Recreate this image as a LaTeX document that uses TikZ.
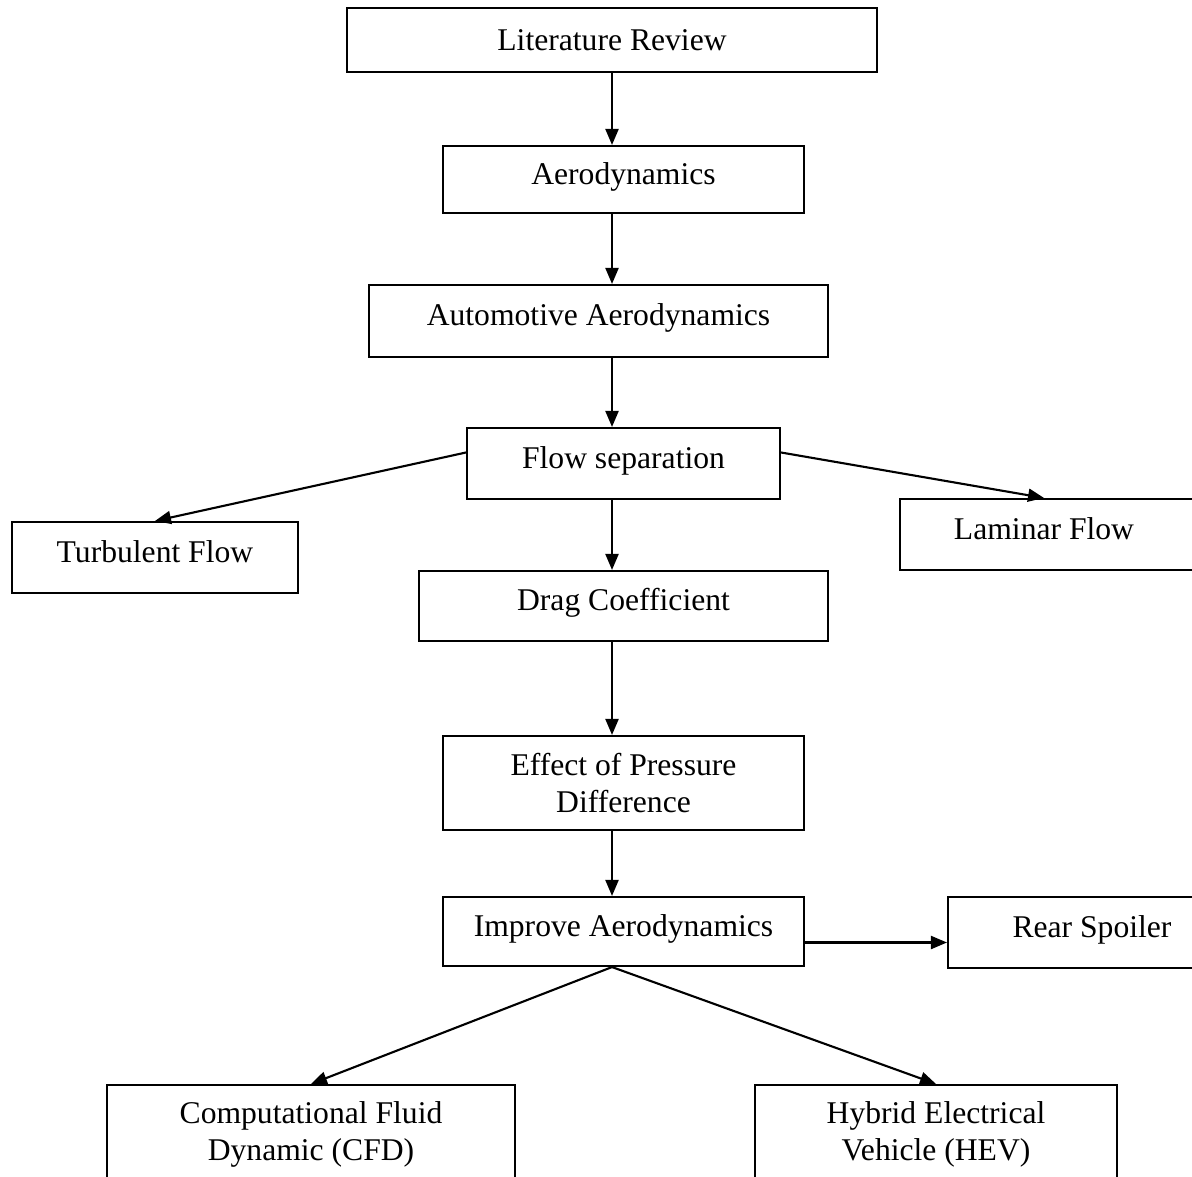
\documentclass[tikz,border=0pt]{standalone}
\usepackage{fontspec}
\setmainfont{Liberation Serif}
\usetikzlibrary{arrows.meta}
\begin{document}
\begin{tikzpicture}[x=0.02cm,y=-0.02cm,
  box/.style={draw,line width=1.2pt,inner sep=0pt,align=center,font=\fontsize{18}{21}\selectfont},
  onebox/.style={box,text height=12.5pt,text depth=7pt},
  arr/.style={line width=1.2pt,-{Triangle[length=3.2mm,width=2.6mm]}}]
\useasboundingbox (0,0) rectangle (1192,1176);
\node (lit) [box,minimum width=10.6cm,minimum height=1.28cm] at (612,40) {Literature Review};
\node (aero) [onebox,minimum width=7.22cm,minimum height=1.34cm] at (623.5,179.5) {Aerodynamics};
\node (auto) [onebox,minimum width=9.18cm,minimum height=1.44cm] at (598.5,321) {Automotive Aerodynamics};
\node (flow) [onebox,minimum width=6.26cm,minimum height=1.42cm] at (623.5,463.5) {Flow separation};
\node (turb) [onebox,minimum width=5.72cm,minimum height=1.42cm] at (155,557.5) {Turbulent Flow};
\node (lam) [onebox,minimum width=6.0cm,minimum height=1.42cm] at (1050,534.5) {Laminar Flow\hspace*{0.24cm}};
\node (drag) [onebox,minimum width=8.18cm,minimum height=1.4cm] at (623.5,606) {Drag Coefficient};
\node (press) [box,minimum width=7.22cm,minimum height=1.88cm] at (623.5,783) {Effect of Pressure\\Difference};
\node (impr) [onebox,minimum width=7.22cm,minimum height=1.38cm] at (623.5,931.5) {Improve Aerodynamics};
\node (spoil) [onebox,minimum width=5.76cm,minimum height=1.42cm] at (1092,932.5) {Rear Spoiler};
\node (cfd) [box,minimum width=8.16cm,minimum height=1.96cm] at (311,1134) {Computational Fluid\\Dynamic (CFD)};
\node (hev) [box,minimum width=7.24cm,minimum height=1.96cm] at (936,1134) {Hybrid Electrical\\Vehicle (HEV)};
\draw [arr] (lit.south) -- (lit.south |- aero.north);
\draw [arr] (lit.south |- aero.south) -- (lit.south |- auto.north);
\draw [arr] (lit.south |- auto.south) -- (lit.south |- flow.north);
\draw [arr] (flow.176) -- (turb.north);
\draw [arr] (flow.4) -- ([xshift=-0.12cm]lam.north);
\draw [arr] (lit.south |- flow.south) -- (lit.south |- drag.north);
\draw [arr] (lit.south |- drag.south) -- (lit.south |- press.north);
\draw [arr] (lit.south |- press.south) -- (lit.south |- impr.north);
\draw [arr] ([yshift=-0.22cm]impr.east) -- ([yshift=-0.22cm]impr.east -| spoil.west);
\draw [arr] (lit.south |- impr.south) -- (cfd.north);
\draw [arr] (lit.south |- impr.south) -- (hev.north);
\end{tikzpicture}
\end{document}
